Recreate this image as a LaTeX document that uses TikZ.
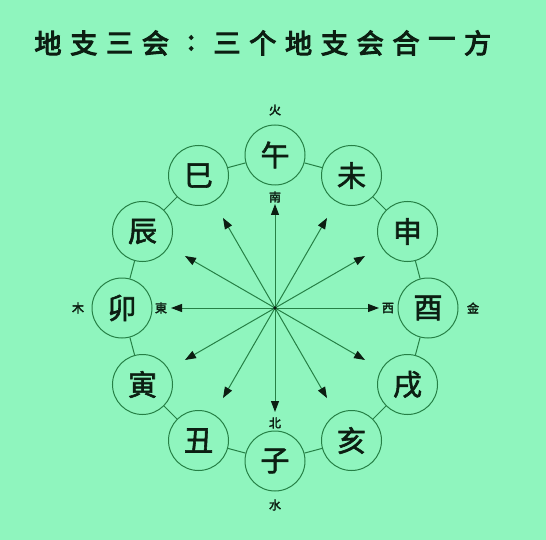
\documentclass[tikz,border=0pt]{standalone}
\usepackage{fontspec}
\usetikzlibrary{arrows.meta,calc}
\newfontfamily\cjk{Noto Sans CJK SC}
\newfontfamily\cjkb{Noto Sans CJK SC}[FakeBold=2]
\newfontfamily\cjkl{Noto Sans CJK SC}[FakeBold=3]
\newfontfamily\cjkt{Noto Sans CJK SC}[FakeBold=4]
\definecolor{bgc}{RGB}{143,245,190}
\definecolor{lnc}{RGB}{38,128,70}
\definecolor{txc}{RGB}{12,30,18}
\tikzset{
  branch/.style={circle,draw=lnc,line width=1pt,minimum size=60pt,inner sep=0pt,
    font=\cjkb\fontsize{29}{29}\selectfont,text=txc},
  ring/.style={draw=lnc,line width=1pt},
  ray/.style={draw=lnc,line width=1pt,-{Triangle[length=11pt,width=8pt,color=txc]}},
  dirlbl/.style={font=\cjkl\fontsize{12}{12}\selectfont,text=txc,inner sep=0pt},
  titlef/.style={font=\cjkt\fontsize{27}{27}\selectfont,text=txc,inner sep=0pt}
}
\begin{document}
\begin{tikzpicture}[x=1pt,y=-1pt]
\fill[bgc] (0,0) rectangle (546,540);
\useasboundingbox (0,0) rectangle (546,540);
\foreach \ch [count=\i from 0] in {地,支,三,会,:,三,个,地,支,会,合,一,方}{
  \node[titlef] (title\i) at ({48+35.8*\i},43) {\ch};
}
\coordinate (c) at (275,308);
\foreach \n/\t/\a in {wu/午/90, wei/未/60, shen/申/30, you/酉/0, xu/戌/-30, hai/亥/-60,
  zi/子/-90, chou/丑/-120, yin/寅/-150, mao/卯/180, chen/辰/150, si/巳/120}{
  \node[branch] (\n) at ($(c)+({153*cos(\a)},{-153*sin(\a)})$) {\t};
  \coordinate (t\n) at ($(c)+({104*cos(\a)},{-104*sin(\a)})$);
  \draw[ray] (c) -- (t\n);
}
\foreach \p/\q in {wu/wei, wei/shen, shen/you, you/xu, xu/hai, hai/zi, zi/chou, chou/yin, yin/mao, mao/chen, chen/si, si/wu}{
  \draw[ring] (\p) -- (\q);
}
\fill[txc] (c) circle (1.8pt);
\node[dirlbl] (huo) at (275,110) {火};
\node[dirlbl] (nan) at (275,197) {南};
\node[dirlbl] (bei) at (275,423) {北};
\node[dirlbl] (shui) at (275,505) {水};
\node[dirlbl] (mu) at (78,308) {木};
\node[dirlbl] (dong) at (161,308) {東};
\node[dirlbl] (xi) at (388,308) {西};
\node[dirlbl] (jin) at (473,308) {金};
\end{tikzpicture}
\end{document}
